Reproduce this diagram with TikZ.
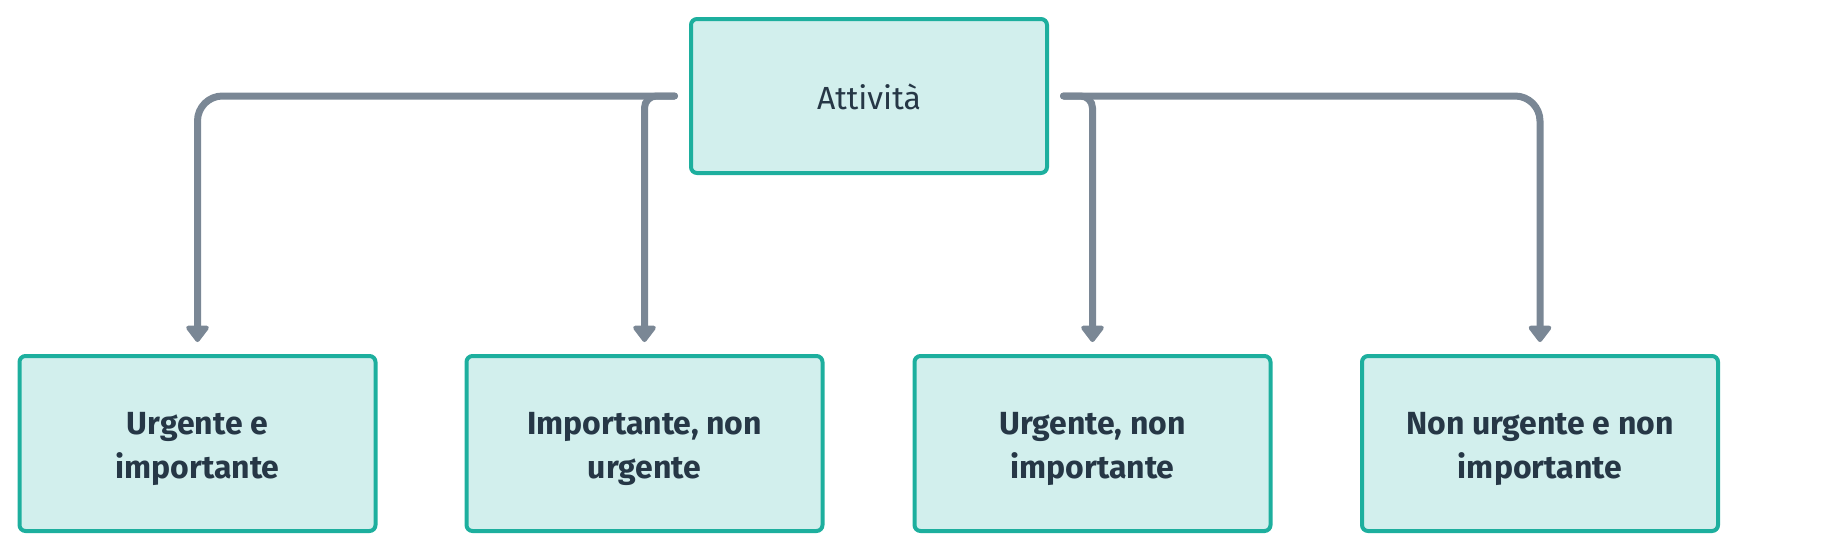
\documentclass[tikz,border=0pt]{standalone}
\usepackage{fontspec}
\setmainfont{Fira Sans}
\usetikzlibrary{arrows.meta}
\definecolor{boxfill}{HTML}{D2EFED}
\definecolor{boxline}{HTML}{1DAF9E}
\definecolor{boxtext}{HTML}{263746}
\definecolor{linkgray}{HTML}{7A8795}

\begin{document}
\begin{tikzpicture}[x=1pt, y=-1pt,
    task/.style={rectangle, rounded corners=6pt, draw=boxline, line width=4pt,
        fill=boxfill, text=boxtext, align=center},
    root/.style={task, minimum width=356pt, minimum height=154pt,
        text height=30pt, text depth=4pt, font=\fontsize{32}{44}\selectfont},
    leaf/.style={task, minimum width=356pt, minimum height=175pt,
        text height=70pt, text depth=1pt, font=\fontsize{32}{44}\selectfont\bfseries},
    link/.style={draw=linkgray, line width=7pt, line cap=round, shorten >=12pt,
        -{Triangle[width=26pt, length=18pt, round]}}]
                \useasboundingbox (0,0) rectangle (1824,552);

                % Nodes
                \node[root] (top) at (869,96) {Attività};            % Root
                \node[leaf] (1) at (197.5,443.5) {Urgente e \\ importante};   % Leaf
                \node[leaf] (2) at (644.5,443.5) {Importante, non \\ urgente}; % Leaf
                \node[leaf] (3) at (1092.5,443.5) {Urgente, non \\ importante}; % Leaf
                \node[leaf] (4) at (1540,443.5) {Non urgente e non \\ importante}; % Leaf

                \coordinate (topL) at ([xshift=-14.5pt]top.west);
                \coordinate (topR) at ([xshift=14.5pt]top.east);

                % Edges
                \draw[link, rounded corners=25pt] (topL) -| (1.north);
                \draw[link, rounded corners=12pt] (topL) -| (2.north);
                \draw[link, rounded corners=12pt] (topR) -| (3.north);
                \draw[link, rounded corners=25pt] (topR) -| (4.north);
            \end{tikzpicture}
\end{document}
